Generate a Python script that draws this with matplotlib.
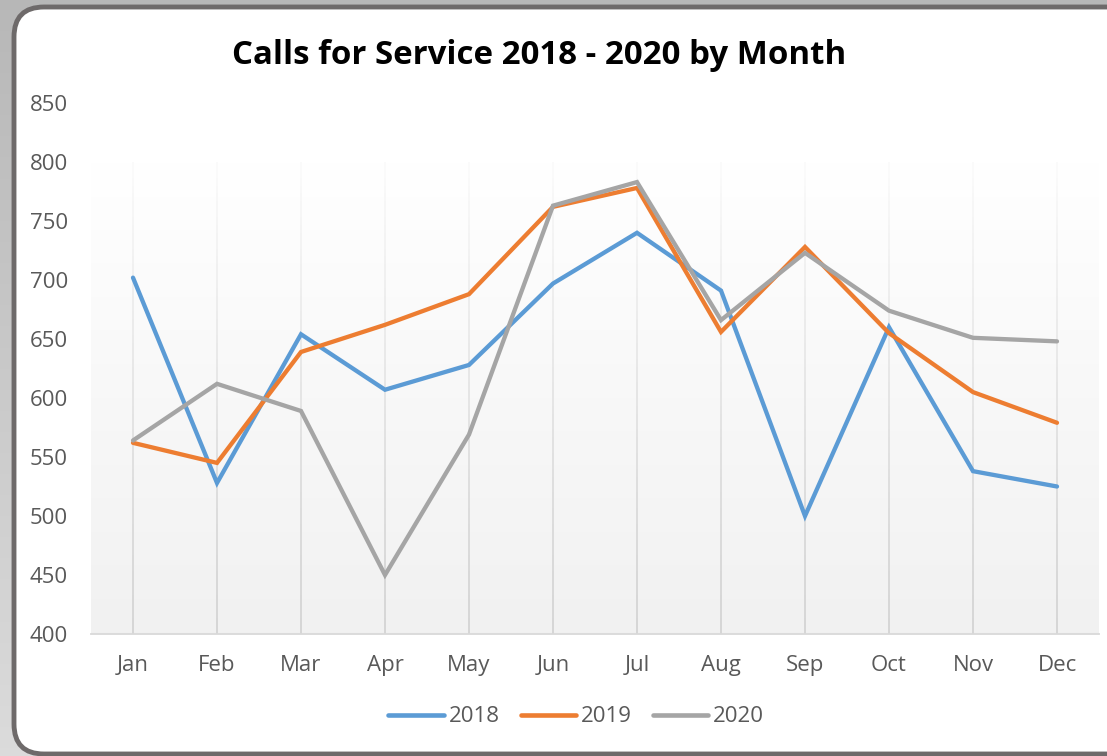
import numpy as np
import matplotlib
matplotlib.use("Agg")
import matplotlib.pyplot as plt
from matplotlib.patches import FancyBboxPatch
from matplotlib.lines import Line2D
from matplotlib.collections import LineCollection

months = ["Jan", "Feb", "Mar", "Apr", "May", "Jun", "Jul", "Aug", "Sep", "Oct", "Nov", "Dec"]
calls_2018 = [702, 528, 654, 607, 628, 697, 740, 691, 500, 660, 538, 525]
calls_2019 = [562, 545, 639, 662, 688, 762, 778, 656, 728, 655, 605, 579]
calls_2020 = [564, 612, 589, 450, 569, 763, 783, 666, 723, 674, 651, 648]
series_labels = ["2018", "2019", "2020"]
yticks = [400, 450, 500, 550, 600, 650, 700, 750, 800, 850]

plt.rcParams['font.family'] = ['Open Sans', 'DejaVu Sans']

W, H = 1107, 756
fig = plt.figure(figsize=(W / 100, H / 100), dpi=100)

# background gray gradient
bg = fig.add_axes([0, 0, 1, 1])
bg.set_xlim(0, W)
bg.set_ylim(H, 0)
bg.axis('off')
grad = np.linspace(0.72, 0.86, 256).reshape(-1, 1)
bg.imshow(np.dstack([grad, grad, grad]), extent=[0, W, H, 0], aspect='auto', zorder=0)
frame = FancyBboxPatch((14, 7), W + 40, H - 9, boxstyle="round,pad=0,rounding_size=30",
                       facecolor='white', edgecolor='#6e6a6a', linewidth=3.5, zorder=1)
bg.add_patch(frame)

# main axes
left, right, top, bottom = 91, 1099, 103, 634
ax = fig.add_axes([left / W, (H - bottom) / H, (right - left) / W, (bottom - top) / H])
ax.set_facecolor('none')
x = np.arange(len(months))
ax.set_xlim(-0.5, len(months) - 0.5)
ax.set_ylim(400, 850)

# plot area gradient
g = np.linspace(1.0, 0.945, 256).reshape(-1, 1)
ax.imshow(np.dstack([g, g, g]), extent=[-0.5, len(months) - 0.5, 400, 800],
          aspect='auto', zorder=0)

# vertical gridlines fading toward the top
nseg = 60
ys = np.linspace(400, 800, nseg + 1)
segs, cols = [], []
for xi in x:
    for i in range(nseg):
        segs.append([(xi, ys[i]), (xi, ys[i + 1])])
        t = i / nseg
        v = 0.84 + (0.985 - 0.84) * t ** 1.3
        cols.append((v, v, v))
ax.add_collection(LineCollection(segs, colors=cols, linewidths=1.4, zorder=1))

colors = ['#5b9bd5', '#ed7d31', '#a5a5a5']
for vals, c, lab in zip([calls_2018, calls_2019, calls_2020], colors, series_labels):
    ax.plot(x, vals, color=c, linewidth=3.1, label=lab, zorder=3,
            solid_joinstyle='miter', solid_capstyle='round')

for s in ['top', 'right', 'left']:
    ax.spines[s].set_visible(False)
ax.spines['bottom'].set_color('#d9d9d9')
ax.spines['bottom'].set_linewidth(1.3)

ax.set_xticks(x)
ax.set_xticklabels(months)
ax.set_yticks(yticks)
ax.tick_params(axis='both', length=0, labelsize=16, labelcolor='#595959')
ax.tick_params(axis='y', pad=16.5)
ax.tick_params(axis='x', pad=15)

fig.text(539 / W, 1 - 56 / H, "Calls for Service 2018 - 2020 by Month",
         ha='center', va='center', fontsize=23.8, fontweight='bold', color='black')

handles = [Line2D([0], [0], color=c, linewidth=3.3, solid_capstyle='round') for c in colors]
fig.legend(handles, series_labels, loc='center', bbox_to_anchor=(576 / W, 1 - 717 / H),
           ncol=3, frameon=False, fontsize=16, labelcolor='#595959',
           handlelength=2.5, handletextpad=0.2, columnspacing=0.95)

fig.savefig('out.png', dpi=100)
